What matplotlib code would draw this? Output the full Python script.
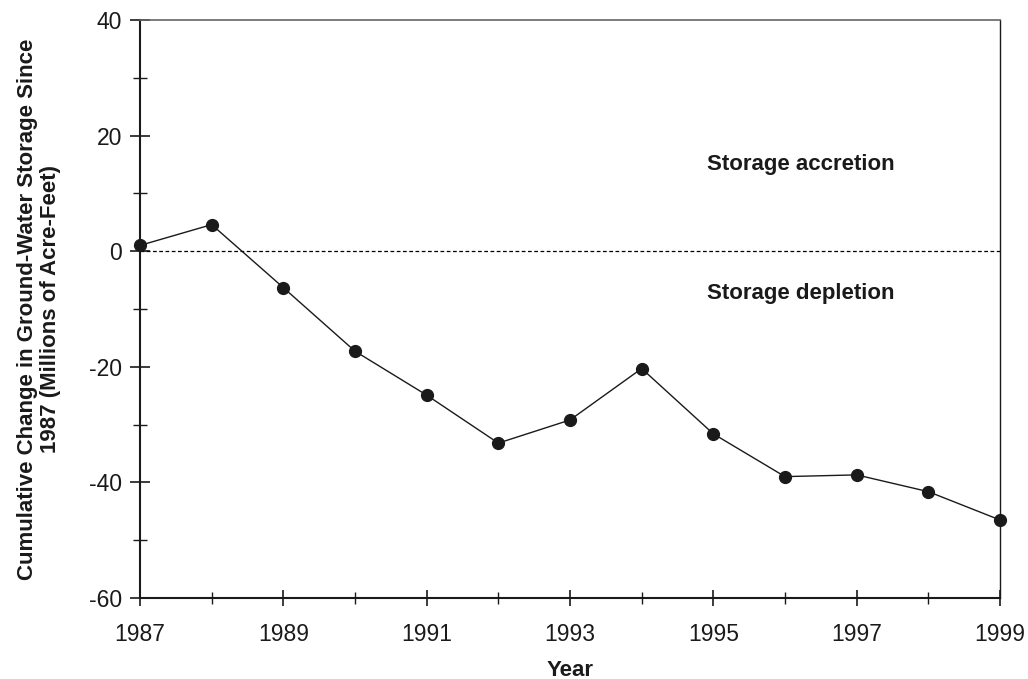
import numpy as np
import matplotlib
matplotlib.use("Agg")
import matplotlib.pyplot as plt
from matplotlib.ticker import MultipleLocator, FixedLocator

plt.rcParams['font.family'] = ['Liberation Sans', 'DejaVu Sans']
plt.rcParams['axes.unicode_minus'] = False

years = [1987, 1988, 1989, 1990, 1991, 1992, 1993, 1994, 1995, 1996, 1997, 1998, 1999]
change = [1.0, 4.6, -6.3, -17.3, -24.9, -33.2, -29.2, -20.3, -31.6, -39.0, -38.7, -41.6, -46.5]
year_labels = years[::2]

fig = plt.figure(figsize=(10.28, 6.79), dpi=100)
ax = fig.add_axes([140 / 1028, 81 / 679, 860 / 1028, 578 / 679])

ax.axhline(0, color='black', lw=0.9, ls=(0, (3, 2)))
ax.plot(years, change, color='#1a1a1a', lw=1.0, marker='o', ms=8.5,
        clip_on=False, zorder=3)

ax.set_xlim(1987, 1999)
ax.set_ylim(-60, 40)
ax.xaxis.set_major_locator(FixedLocator(year_labels))
ax.xaxis.set_minor_locator(FixedLocator(years))
ax.yaxis.set_major_locator(MultipleLocator(20))
ax.yaxis.set_minor_locator(MultipleLocator(10))
ax.tick_params(which='major', direction='inout', length=14, width=1.2, labelsize=16.5,
               pad=6, colors='#1a1a1a')
ax.tick_params(which='minor', direction='inout', length=10, width=1.0, colors='#1a1a1a')
ax.tick_params(axis='x', which='major', length=12, pad=12)
ax.tick_params(axis='x', which='minor', length=9)

for side in ['left', 'bottom']:
    ax.spines[side].set_linewidth(1.5)
    ax.spines[side].set_color('#1a1a1a')
ax.spines['top'].set_color('#666666')
ax.spines['top'].set_linewidth(1.2)
ax.spines['right'].set_color('#1a1a1a')
ax.spines['right'].set_linewidth(1.0)

ax.set_xlabel('Year', fontsize=16, fontweight='bold', labelpad=10, color='#1a1a1a')
ax.set_ylabel('Cumulative Change in Ground-Water Storage Since\n1987 (Millions of Acre-Feet)',
              fontsize=16, fontweight='bold', labelpad=20, color='#1a1a1a',
              linespacing=1.1)

ax.text(1996.22, 15, 'Storage accretion', fontsize=16, fontweight='bold',
        ha='center', va='center', color='#1a1a1a')
ax.text(1996.22, -7.3, 'Storage depletion', fontsize=16, fontweight='bold',
        ha='center', va='center', color='#1a1a1a')

fig.savefig('out.png', dpi=100)
